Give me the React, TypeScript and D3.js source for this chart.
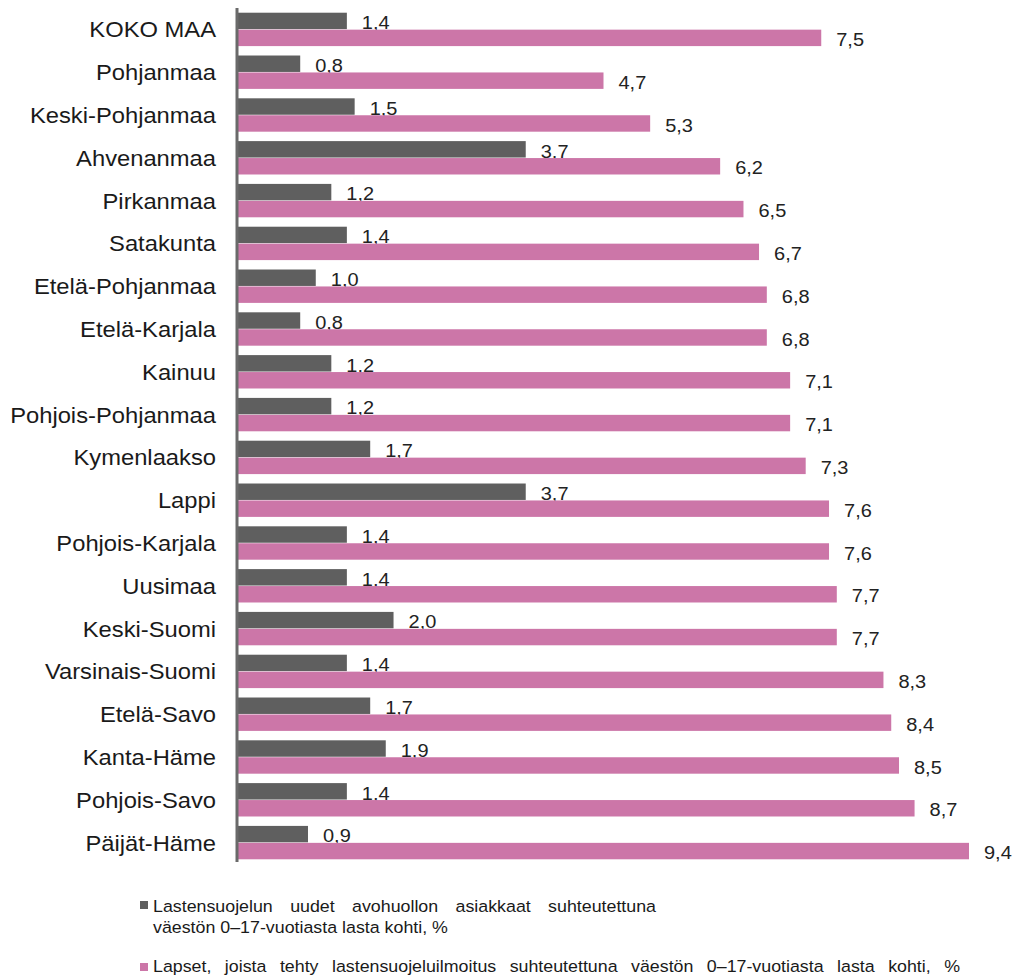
import React, { useEffect, useRef } from 'react';
import * as d3 from 'd3';

// alueet ylhäältä alas
const regions = [
  'KOKO MAA', 'Pohjanmaa', 'Keski-Pohjanmaa', 'Ahvenanmaa', 'Pirkanmaa', 'Satakunta',
  'Etelä-Pohjanmaa', 'Etelä-Karjala', 'Kainuu', 'Pohjois-Pohjanmaa', 'Kymenlaakso', 'Lappi',
  'Pohjois-Karjala', 'Uusimaa', 'Keski-Suomi', 'Varsinais-Suomi', 'Etelä-Savo', 'Kanta-Häme',
  'Pohjois-Savo', 'Päijät-Häme',
];
const avohuolto = [1.4, 0.8, 1.5, 3.7, 1.2, 1.4, 1.0, 0.8, 1.2, 1.2, 1.7, 3.7, 1.4, 1.4, 2.0, 1.4, 1.7, 1.9, 1.4, 0.9];
const ilmoitus = [7.5, 4.7, 5.3, 6.2, 6.5, 6.7, 6.8, 6.8, 7.1, 7.1, 7.3, 7.6, 7.6, 7.7, 7.7, 8.3, 8.4, 8.5, 8.7, 9.4];

const seriesKeys = ['avohuolto', 'ilmoitus'];
const seriesColors = ['#5f5f5f', '#cc76a8'];
const legendLines = [
  'Lastensuojelun uudet avohuollon asiakkaat suhteutettuna',
  'väestön 0–17-vuotiasta lasta kohti, %',
  'Lapset, joista tehty lastensuojeluilmoitus suhteutettuna väestön 0–17-vuotiasta lasta kohti, %',
];

const FONT = '"Liberation Sans", Arial, sans-serif';
const STRETCH = 1.08; // alkuperäisen kuvan teksti on hieman leveämpää

const App = () => {
  const legendRef = useRef<SVGGElement>(null);

  const width = 1017;
  const height = 978;
  const axisX = 237;

  const x = d3.scaleLinear().domain([0, 9.4]).range([axisX + 1, 969]);
  const y = d3.scaleBand().domain(regions).range([8, 864]).paddingInner(0.22).paddingOuter(0.11);
  const ySub = d3.scaleBand().domain(seriesKeys).range([0, y.bandwidth()]).paddingInner(0.03);

  const values = [avohuolto, ilmoitus];
  const fmt = (v: number) => v.toFixed(1).replace('.', ',');

  // legendan rivien leveys tasataan sanavälillä
  useEffect(() => {
    const targets = [503, 280, 807];
    const g = d3.select(legendRef.current);
    g.selectAll<SVGTextElement, unknown>('text.leg').each(function (_, i) {
      const el = this;
      el.setAttribute('word-spacing', '0');
      const natural = el.getComputedTextLength();
      const spaces = (el.textContent || '').split(' ').length - 1;
      if (spaces > 0) {
        const extra = Math.max(0, targets[i] / STRETCH - natural) / spaces;
        el.setAttribute('word-spacing', String(extra));
      }
    });
  }, []);

  return (
    <svg width={width} height={height} style={{ position: 'absolute', left: 0, top: 0 }} fontFamily={FONT}>
      <rect width={width} height={height} fill="#fff" />
      {regions.map((r, i) => (
        <g key={r} transform={`translate(0,${y(r)})`}>
          <text
            transform={`translate(216,${y.bandwidth() / 2}) scale(${STRETCH},1)`}
            dy="0.36em"
            textAnchor="end"
            fontSize={22}
            fill="#1a1a1a"
          >
            {r}
          </text>
          {seriesKeys.map((k, s) => {
            const v = values[s][i];
            const by = ySub(k)!;
            return (
              <g key={k}>
                <rect x={x(0)} y={by} width={x(v) - x(0)} height={ySub.bandwidth()} fill={seriesColors[s]} />
                <text
                  transform={`translate(${x(v) + 15},${by + ySub.bandwidth()}) scale(${STRETCH},1)`}
                  fontSize={18.5}
                  fill="#222"
                >
                  {fmt(v)}
                </text>
              </g>
            );
          })}
        </g>
      ))}
      <line x1={axisX} x2={axisX} y1={8} y2={862} stroke="#6a6a6a" strokeWidth={3} />

      <g ref={legendRef} fontSize={16.5} fill="#1a1a1a">
        <rect x={140} y={901} width={8} height={8} fill={seriesColors[0]} />
        <text className="leg" transform={`translate(153,912) scale(${STRETCH},1)`}>{legendLines[0]}</text>
        <text className="leg" transform={`translate(153,933) scale(${STRETCH},1)`}>{legendLines[1]}</text>
        <rect x={140} y={963} width={8} height={8} fill={seriesColors[1]} />
        <text className="leg" transform={`translate(153,972) scale(${STRETCH},1)`}>{legendLines[2]}</text>
      </g>
    </svg>
  );
};

export default App;
